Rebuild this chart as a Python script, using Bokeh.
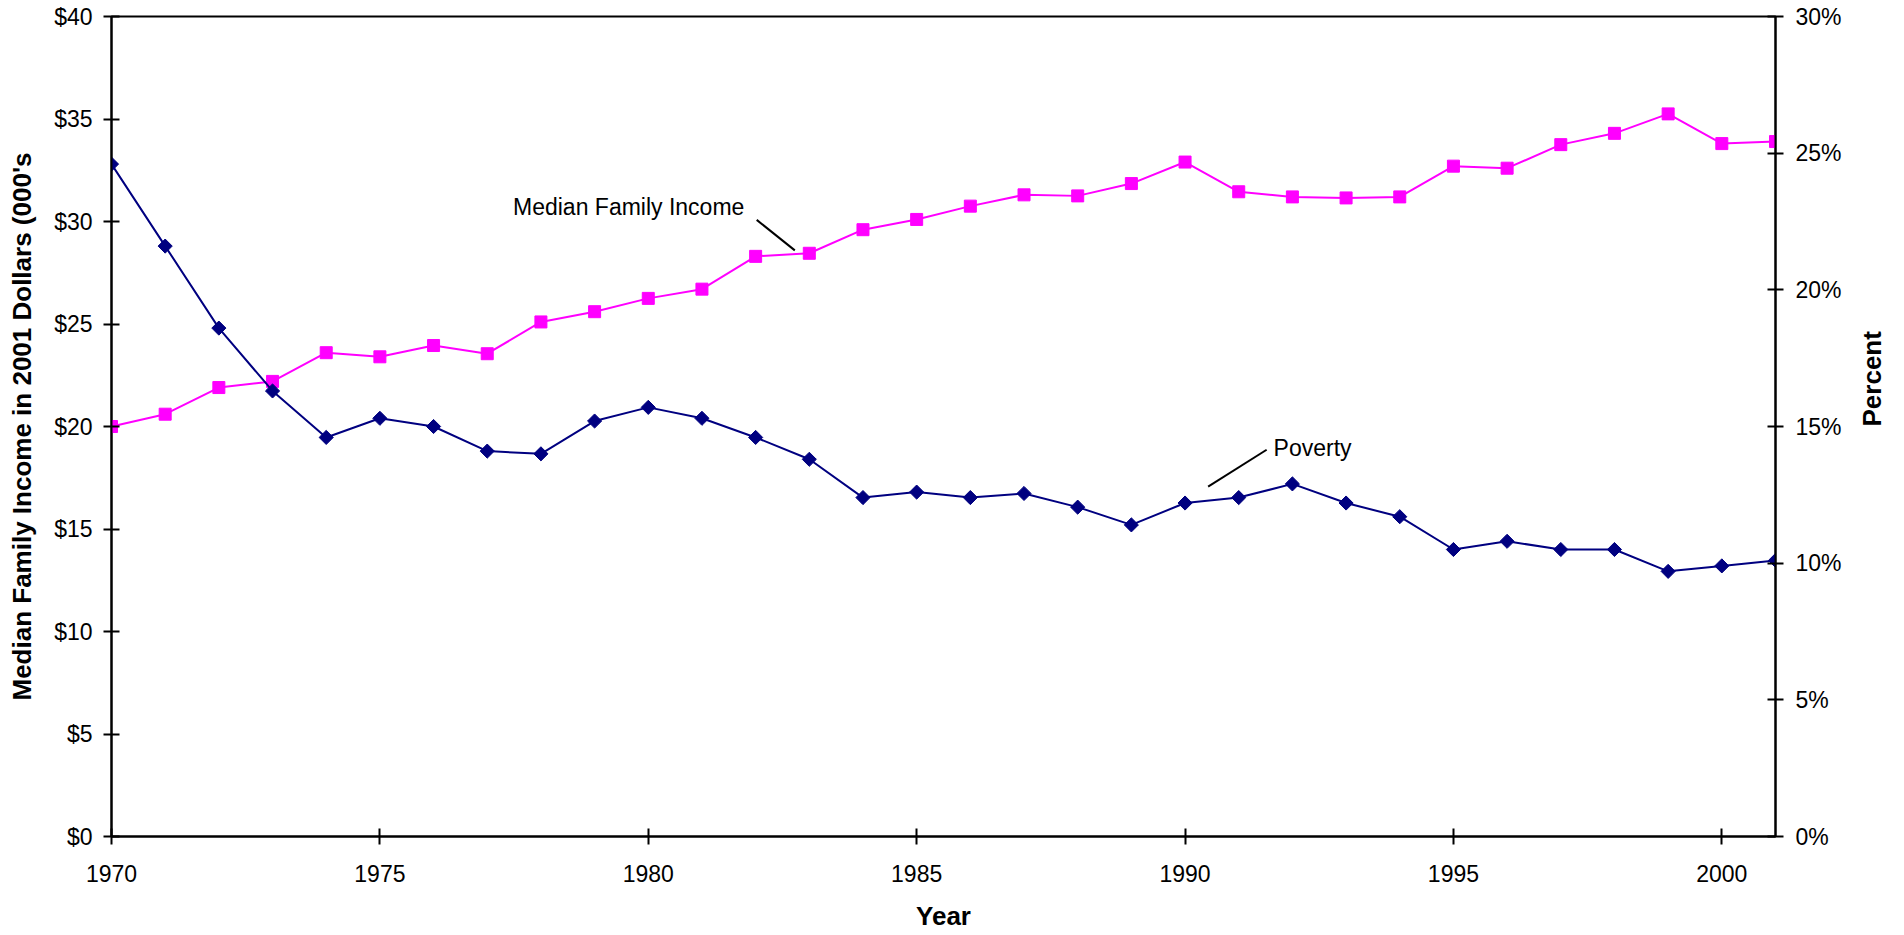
from bokeh.plotting import figure
from bokeh.models import Range1d, LinearAxis, FixedTicker, PrintfTickFormatter, Label
from bokeh.embed import file_html
from bokeh.resources import INLINE
import math

# ---- data ----
years = list(range(1970, 2002))
income = [20.0, 20.6, 21.9, 22.2, 23.6, 23.4, 23.95, 23.55, 25.1, 25.6,
          26.25, 26.7, 28.3, 28.45, 29.6, 30.1, 30.75, 31.3, 31.25, 31.85,
          32.9, 31.45, 31.2, 31.15, 31.2, 32.7, 32.6, 33.75, 34.3, 35.25,
          33.8, 33.9]
poverty = [24.6, 21.6, 18.6, 16.3, 14.6, 15.3, 15.0, 14.1, 14.0, 15.2,
           15.7, 15.3, 14.6, 13.8, 12.4, 12.6, 12.4, 12.55, 12.05, 11.4,
           12.2, 12.4, 12.9, 12.2, 11.7, 10.5, 10.8, 10.5, 10.5, 9.7,
           9.9, 10.1]
x_ticks = [1970, 1975, 1980, 1985, 1990, 1995, 2000]
left_ticks = [0, 5, 10, 15, 20, 25, 30, 35, 40]
right_ticks = [0, 5, 10, 15, 20, 25, 30]

FONT = "Liberation Sans"
NAVY = "#000080"
MAGENTA = "#FF00FF"

p = figure(frame_width=1664, frame_height=820,
           x_range=Range1d(1970, 2001), y_range=Range1d(0, 40),
           output_backend="svg", toolbar_location=None,
           min_border_left=111, min_border_top=16, min_border_bottom=20,
           min_border_right=124,
           x_axis_label="Year",
           y_axis_label="Median Family Income in 2001 Dollars (000's")
p.extra_y_ranges = {"pct": Range1d(0, 30)}
p.grid.visible = False
p.outline_line_color = "black"
p.outline_line_width = 2
p.background_fill_color = "white"
p.border_fill_color = "white"

right = LinearAxis(y_range_name="pct", ticker=FixedTicker(ticks=right_ticks),
                   formatter=PrintfTickFormatter(format="%d%%"),
                   axis_label="Percent")
p.add_layout(right, "right")
try:
    right.axis_label_orientation = math.pi / 2
except Exception:
    pass

p.xaxis.ticker = FixedTicker(ticks=x_ticks)
p.yaxis[0].ticker = FixedTicker(ticks=left_ticks)
p.yaxis[0].formatter = PrintfTickFormatter(format="$%d")

for ax in p.axis:
    ax.axis_line_width = 2
    ax.axis_line_color = "black"
    ax.major_tick_line_width = 2
    ax.major_tick_line_color = "black"
    ax.major_tick_in = 8
    ax.major_tick_out = 8
    ax.minor_tick_line_color = None
    ax.major_label_text_font = FONT
    ax.major_label_text_font_size = "23px"
    ax.major_label_text_color = "black"
    ax.axis_label_text_font = FONT
    ax.axis_label_text_font_size = "26px"
    ax.axis_label_text_font_style = "bold"
    ax.axis_label_text_color = "black"

p.xaxis.major_label_standoff = 20
p.xaxis.axis_label_standoff = 16
p.yaxis[0].major_label_standoff = 11
p.yaxis[0].axis_label_standoff = 14
right.major_label_standoff = 12
right.axis_label_standoff = 27

# series
p.line(years, income, line_color=MAGENTA, line_width=2)
p.scatter(years, income, marker="square", size=12, fill_color=MAGENTA,
          line_color=MAGENTA)
p.line(years, poverty, line_color=NAVY, line_width=2, y_range_name="pct")
p.scatter(years, poverty, marker="square", angle=math.pi / 4, size=10,
          fill_color=NAVY, line_color=NAVY, y_range_name="pct")

# annotations
p.add_layout(Label(x=1977.48, y=30.73, text="Median Family Income",
                   text_font=FONT, text_font_size="23px", text_color="black",
                   text_align="left", text_baseline="middle"))
p.segment(x0=[1982.02], y0=[30.08], x1=[1982.73], y1=[28.59],
          line_color="black", line_width=2)
p.add_layout(Label(x=1991.65, y=14.2, y_range_name="pct", text="Poverty",
                   text_font=FONT, text_font_size="23px", text_color="black",
                   text_align="left", text_baseline="middle"))
p.segment(x0=[1990.43], y0=[12.80], x1=[1991.52], y1=[14.15],
          line_color="black", line_width=2, y_range_name="pct")

open("out.html", "w").write(file_html(p, INLINE))
